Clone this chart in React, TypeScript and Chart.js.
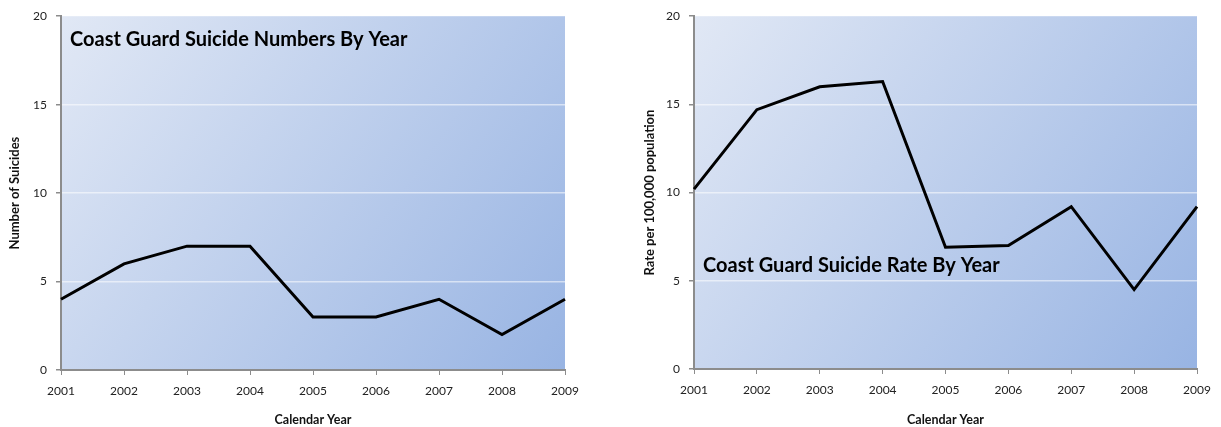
import React, { useEffect, useRef } from "react";
import { Chart, registerables } from "chart.js";

Chart.register(...registerables);

const years = ["2001", "2002", "2003", "2004", "2005", "2006", "2007", "2008", "2009"];
const suicideNumbers = [4, 6, 7, 7, 3, 3, 4, 2, 4];
const suicideRates = [10.2, 14.7, 16.0, 16.3, 6.9, 7.0, 9.2, 4.5, 9.2];
const yMin = 0;
const yMax = 20;
const yStep = 5;

const FONT = "Lato, 'Liberation Sans', sans-serif";

const plotBgPlugin = {
  id: "plotBg",
  beforeDraw(chart: any) {
    const { ctx, chartArea: a } = chart;
    const g = ctx.createLinearGradient(a.left, a.top, a.right, a.bottom);
    g.addColorStop(0, "#e1e8f5");
    g.addColorStop(1, "#98b4e3");
    ctx.save();
    ctx.fillStyle = g;
    ctx.fillRect(a.left, a.top, a.width, a.height);
    ctx.restore();
  },
};

const innerTitlePlugin = {
  id: "innerTitle",
  afterDraw(chart: any, _args: any, opts: any) {
    if (!opts || !opts.text) return;
    const { ctx, chartArea: a } = chart;
    const y = chart.scales.y.getPixelForValue(opts.value);
    ctx.save();
    ctx.font = `bold ${opts.size}px ${FONT}`;
    ctx.fillStyle = "#000";
    ctx.textBaseline = "middle";
    ctx.textAlign = "left";
    ctx.fillText(opts.text, a.left + opts.dx, y);
    ctx.restore();
  },
};

type Props = {
  left: number;
  width: number;
  values: number[];
  yTitle: string;
  title: string;
  titleValue: number;
  padTop: number;
  padRight: number;
  yAxisWidth: number;
  xAxisHeight: number;
  yTitlePad: number;
};

function LineChart(p: Props) {
  const ref = useRef<HTMLCanvasElement | null>(null);
  useEffect(() => {
    if (!ref.current) return;
    const chart = new Chart(ref.current, {
      type: "line",
      data: {
        labels: years,
        datasets: [
          {
            data: p.values,
            borderColor: "#000",
            borderWidth: 3,
            pointRadius: 0,
            tension: 0,
            fill: false,
          },
        ],
      },
      plugins: [plotBgPlugin, innerTitlePlugin],
      options: {
        animation: false,
        responsive: false,
        maintainAspectRatio: false,
        layout: { padding: { top: p.padTop, right: p.padRight, left: 0, bottom: 0 } },
        plugins: {
          legend: { display: false },
          tooltip: { enabled: false },
          innerTitle: { text: p.title, value: p.titleValue, dx: 9, size: 20 },
        } as any,
        scales: {
          x: {
            type: "category",
            offset: false,
            afterFit(s: any) {
              s.height = p.xAxisHeight;
            },
            grid: {
              drawOnChartArea: false,
              drawTicks: true,
              tickLength: 5,
              tickColor: "#8c8c8c",
            },
            border: { display: true, color: "#8c8c8c", width: 2 },
            ticks: {
              color: "#222",
              font: { family: FONT, size: 12 },
              padding: 9,
              maxRotation: 0,
              autoSkip: false,
            },
            title: {
              display: true,
              text: "Calendar Year",
              color: "#111",
              font: { family: FONT, size: 12.5, weight: "bold" },
              padding: { top: 0, bottom: 0 },
            },
          },
          y: {
            min: yMin,
            max: yMax,
            afterFit(s: any) {
              s.width = p.yAxisWidth;
            },
            grid: {
              color: (c: any) =>
                c.tick && (c.tick.value === yMin || c.tick.value === yMax)
                  ? "rgba(255,255,255,0)"
                  : "rgba(255,255,255,0.55)",
              lineWidth: 1.5,
              drawTicks: true,
              tickLength: 5,
              tickColor: "#8c8c8c",
            },
            border: { display: true, color: "#8c8c8c", width: 2 },
            ticks: {
              stepSize: yStep,
              color: "#222",
              font: { family: FONT, size: 12 },
              padding: 9,
            },
            title: {
              display: true,
              text: p.yTitle,
              color: "#111",
              font: { family: FONT, size: 13, weight: "bold" },
              padding: { top: p.yTitlePad, bottom: 0 },
            },
          },
        },
      },
    });
    return () => chart.destroy();
  }, []);
  return (
    <canvas
      ref={ref}
      width={p.width}
      height={427}
      style={{ position: "absolute", left: p.left, top: 0, width: p.width, height: 427 }}
    />
  );
}

export default function App() {
  return (
    <div style={{ position: "absolute", left: 0, top: 0, width: 1221, height: 427, background: "#fff" }}>
      <LineChart
        left={0}
        width={600}
        values={suicideNumbers}
        yTitle="Number of Suicides"
        title="Coast Guard Suicide Numbers By Year"
        titleValue={18.7}
        padTop={14}
        padRight={35}
        yAxisWidth={61}
        xAxisHeight={57}
        yTitlePad={7}
      />
      <LineChart
        left={600}
        width={621}
        values={suicideRates}
        yTitle="Rate per 100,000 population"
        title="Coast Guard Suicide Rate By Year"
        titleValue={5.85}
        padTop={12}
        padRight={24}
        yAxisWidth={94}
        xAxisHeight={58}
        yTitlePad={42}
      />
    </div>
  );
}
